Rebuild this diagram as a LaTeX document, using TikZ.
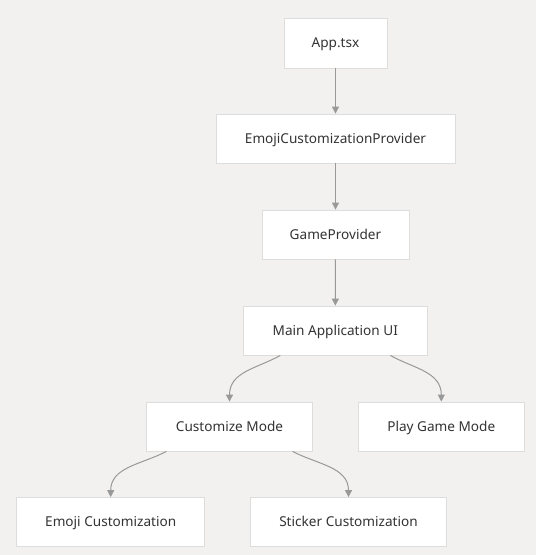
\documentclass[tikz,border=0pt]{standalone}
\usepackage{fontspec}
\setmainfont{Noto Sans}
\usetikzlibrary{arrows.meta,calc}
\definecolor{bg}{HTML}{F2F1F0}
\definecolor{bd}{HTML}{DDDDDD}
\definecolor{edge}{HTML}{999999}
\definecolor{txt}{HTML}{333333}
\tikzset{
  x=1pt,y=-1pt,
  box/.style={draw=bd,line width=0.8pt,fill=white,text=txt,font=\fontsize{13.6}{15}\selectfont,inner sep=0pt,anchor=center,text height=9.8pt,text depth=0.8pt},
  link/.style={draw=edge,line width=1pt,-{Triangle[length=7pt,width=7pt]}},
}
\begin{document}
\begin{tikzpicture}
\path[fill=bg] (0,0) rectangle (536,555);
\useasboundingbox (0,0) rectangle (536,555);
\node[box,minimum width=103pt,minimum height=50pt] (app) at (335.5,43) {App.tsx};
\node[box,minimum width=239pt,minimum height=49pt] (ecp) at (335.5,138.5) {EmojiCustomizationProvider};
\node[box,minimum width=147pt,minimum height=49pt] (gp) at (335.5,234.5) {GameProvider};
\node[box,minimum width=184pt,minimum height=49pt] (main) at (335.3,330.5) {Main Application UI};
\node[box,minimum width=166pt,minimum height=49pt] (cust) at (229.5,426.5) {Customize Mode};
\node[box,minimum width=166pt,minimum height=49pt] (play) at (441.3,426.5) {Play Game Mode};
\node[box,minimum width=188pt,minimum height=49pt] (emoji) at (110.7,522) {Emoji Customization};
\node[box,minimum width=196pt,minimum height=49pt] (stick) at (348.5,522) {Sticker Customization};
\draw[link] (app) -- (ecp);
\draw[link] (ecp) -- (gp);
\draw[link] (gp) -- (main);
\draw[link] ($(main.south)+(-55,0)$) .. controls ($(main.south)+(-78,13)$) and ($(cust.north)+(0,-30)$) .. (cust.north);
\draw[link] ($(main.south)+(55,0)$) .. controls ($(main.south)+(78,13)$) and ($(play.north)+(0,-30)$) .. (play.north);
\draw[link] ($(cust.south)+(-63,0)$) .. controls ($(cust.south)+(-88,13)$) and ($(emoji.north)+(0,-30)$) .. (emoji.north);
\draw[link] ($(cust.south)+(63,0)$) .. controls ($(cust.south)+(88,13)$) and ($(stick.north)+(0,-30)$) .. (stick.north);
\end{tikzpicture}
\end{document}
